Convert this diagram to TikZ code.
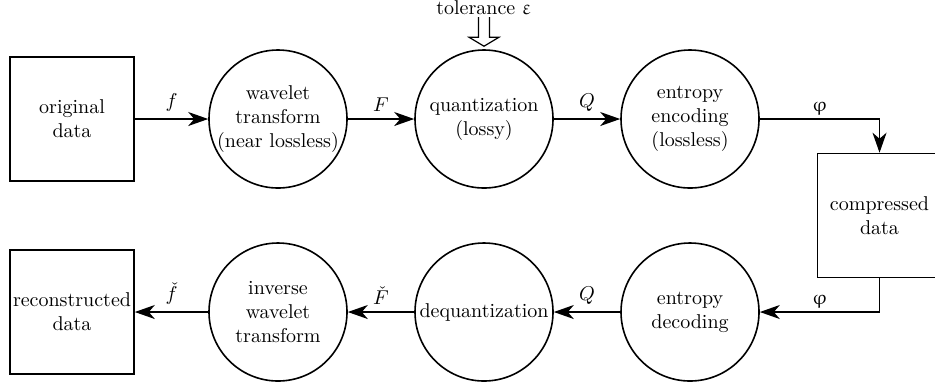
\documentclass[tikz,border=0pt]{standalone}
\usepackage{upgreek}
\usetikzlibrary{arrows.meta}
\begin{document}
\begin{tikzpicture}[
  box/.style={draw, line width=0.8pt, minimum size=62pt, inner sep=1pt, align=center},
  stage/.style={draw, circle, line width=0.8pt, minimum size=69pt, inner sep=-3pt, align=center},
  flow/.style={line width=0.8pt, -{Stealth[length=10pt,width=7pt,inset=3pt]}}
]

\newcommand\X{103pt}
\newcommand\Y{-96.5pt}

\useasboundingbox (-36pt, 59.5pt) rectangle (431.5pt, -134.5pt);

%% coding
\node[box]   (orig)  at (0*\X, 0*\Y) {original\\data};
\node[stage] (wav)   at (1*\X, 0*\Y) {wavelet\\transform\\(near lossless)};
\node[stage] (quant) at (2*\X, 0*\Y) {quantization\\(lossy)};
\node[stage] (enc)   at (3*\X, 0*\Y) {entropy\\encoding\\(lossless)};
\node[box]   (comp)  at (3.92*\X, 0.5*\Y) {compressed\\data};

%% decoding
\node[box]   (recon) at (0*\X, 1*\Y) {reconstructed\\data};
\node[stage] (iwav)  at (1*\X, 1*\Y) {inverse\\wavelet\\transform};
\node[stage] (deq)   at (2*\X, 1*\Y) {dequantization};
\node[stage] (dec)   at (3*\X, 1*\Y) {entropy\\decoding};

%%
\draw[flow] (orig) -- node[above] {$f$} (wav);
\draw[flow] (wav) -- node[above] {$F$} (quant);
\draw[flow] (quant) -- node[above] {$Q$} (enc);
\draw[flow] (enc) -| node[pos=0.25, above] {$\upvarphi$} (comp);

\draw[flow] (comp) |- node[pos=0.75, above] {$\upvarphi$} (dec);
\draw[flow] (dec) -- node[above] {$Q$} (deq);
\draw[flow] (deq) -- node[above] {$\check{F}$} (iwav);
\draw[flow] (iwav) -- node[above] {$\check{f}$} (recon);

%% tolerance
\coordinate (tip) at ([yshift=1.5pt]quant.north);
\node (tol) at ([yshift=19.5pt]tip) {tolerance $\upvarepsilon$};
\draw[line width=0.6pt] ([xshift=-2.75pt, yshift=14.5pt]tip) -- ++(0,-10pt) -- ++(-4.75pt,0)
  -- (tip) -- ++(7.5pt,4.5pt) -- ++(-4.75pt,0) -- ++(0,10pt);

\end{tikzpicture}
\end{document}
